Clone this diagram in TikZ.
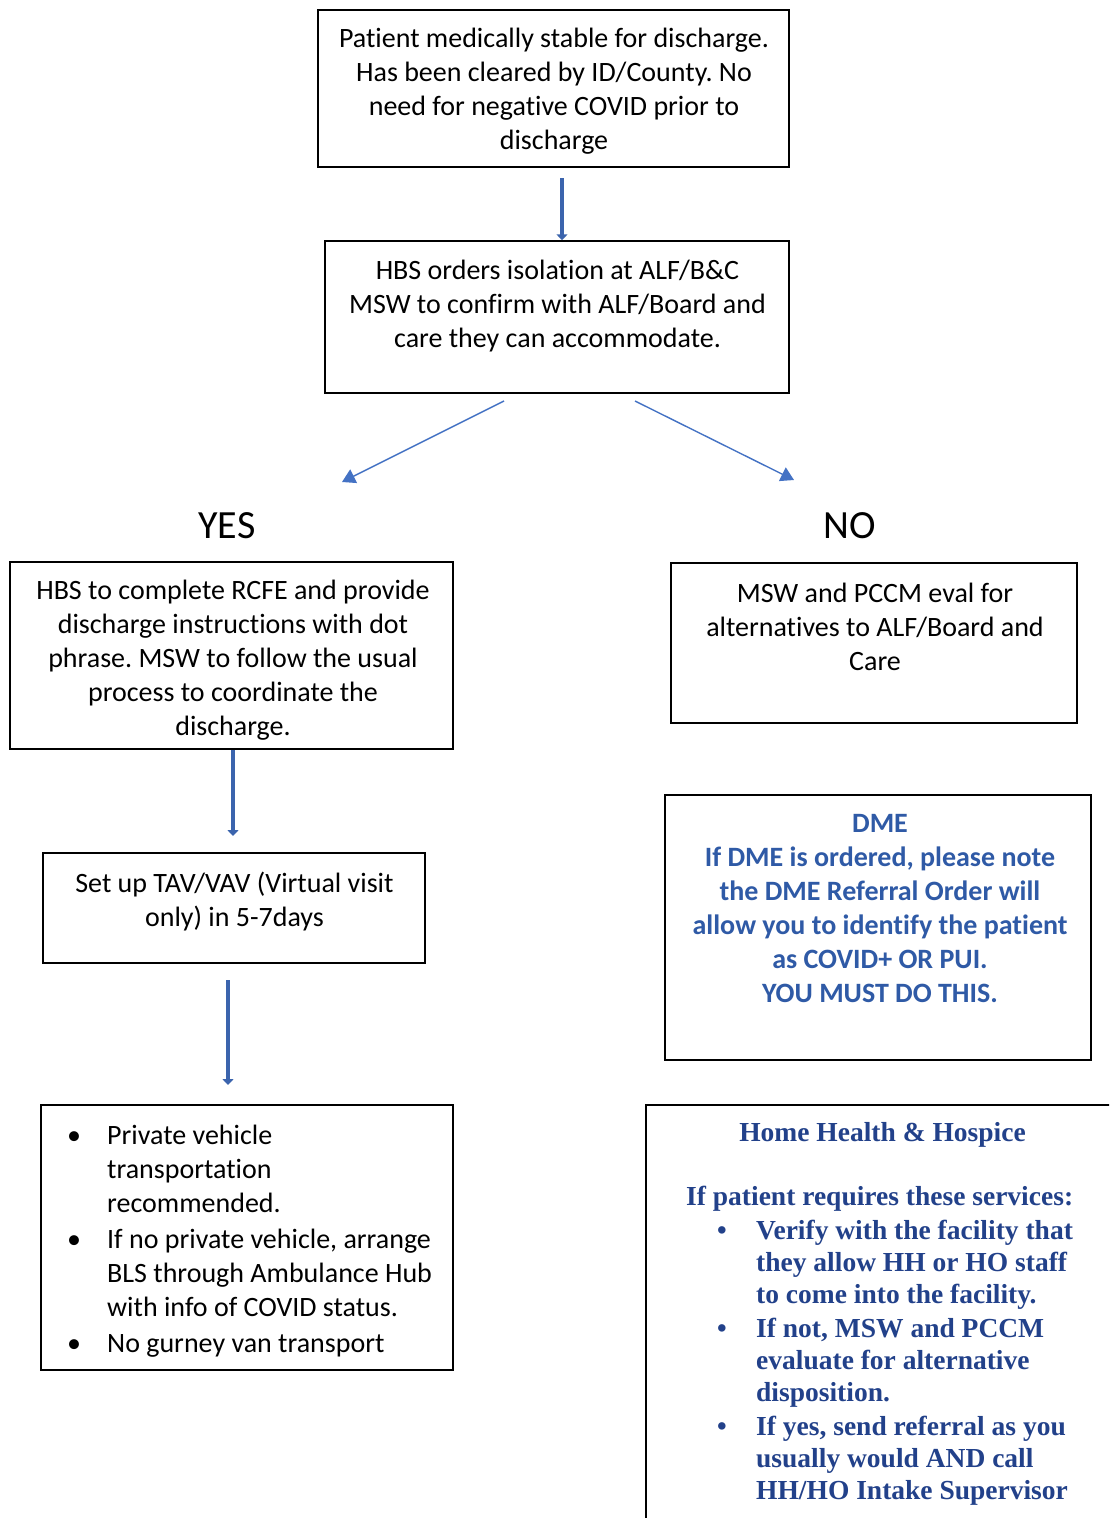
\documentclass[tikz,border=0pt]{standalone}
\usepackage{fontspec}
\setmainfont[Ligatures=NoCommon]{Carlito}
\newfontfamily\tnr{Liberation Serif}
\usetikzlibrary{arrows.meta}
\frenchspacing
\definecolor{arrowblue}{HTML}{4472C4}
\definecolor{thickblue}{HTML}{3B64AD}
\definecolor{dmeblue}{HTML}{2F5AA6}
\definecolor{hhblue}{HTML}{22418A}
\begin{document}
\begin{tikzpicture}[x=1pt,y=-1pt,
  box/.style={draw=black,line width=1.5pt,inner sep=0pt,fill=none},
  txt/.style={inner sep=0pt,align=center,font=\fontsize{28}{34}\selectfont,anchor=north},
  ltxt/.style={inner sep=0pt,align=left,font=\fontsize{28}{34}\selectfont,anchor=north west},
  thickarrow/.style={draw=thickblue,line width=4.5pt,-{Triangle[width=11pt,length=6pt]}},
  diagarrow/.style={draw=arrowblue,line width=1.4pt,-{Triangle[width=15pt,length=13pt]}},
  hh/.style={inner sep=0pt,font=\tnr\bfseries\fontsize{27.5}{32}\selectfont,text=hhblue}
]
\useasboundingbox (0,0) rectangle (1109,1518);
\clip (0,0) rectangle (1109,1518);
\fill[white] (0,0) rectangle (1109,1518);

% Box 1
\node[box,minimum width=471pt,minimum height=157pt] (b1) at (553.5,88.5) {};
\node[txt] (t1) at (554,23) {\strut Patient medically stable for discharge.\\Has been cleared by ID/County. No\\need for negative COVID prior to\\discharge};

% Box 2
\node[box,minimum width=464pt,minimum height=152pt] (b2) at (557,317) {};
\node[txt] (t2) at (557.5,255) {\strut HBS orders isolation at ALF/B\&C\\MSW to confirm with ALF/Board and\\care they can accommodate.};

% YES / NO
\node[inner sep=0pt,font=\fontsize{40}{48}\selectfont] (yes) at (227,526) {YES};
\node[inner sep=0pt,font=\fontsize{40}{48}\selectfont] (no) at (850,526) {NO};

% YES box
\node[box,minimum width=443pt,minimum height=187pt] (b3) at (231.5,655.5) {};
\node[txt] (t3) at (233,575) {\strut HBS to complete RCFE and provide\\discharge instructions with dot\\phrase. MSW to follow the usual\\process to coordinate the\\discharge.};

% NO box
\node[box,minimum width=406pt,minimum height=160pt] (b4) at (874,643) {};
\node[txt] (t4) at (875,578) {\strut MSW and PCCM eval for\\alternatives to ALF/Board and\\Care};

% Setup box
\node[box,minimum width=382pt,minimum height=110pt] (b5) at (234,908) {};
\node[txt] (t5) at (234.5,868) {\strut Set up TAV/VAV (Virtual visit\\only) in 5-7days};

% Transport box
\node[box,minimum width=412pt,minimum height=265pt] (b6) at (247,1237.5) {};
\node[ltxt] (t6) at (107,1120) {\strut\llap{\makebox[40pt][l]{•}}Private vehicle\\transportation\\recommended.\\[2pt]\llap{\makebox[40pt][l]{•}}If no private vehicle, arrange\\BLS through Ambulance Hub\\with info of COVID status.\\[2pt]\llap{\makebox[40pt][l]{•}}No gurney van transport};

% DME box
\node[box,minimum width=426pt,minimum height=265pt] (b7) at (878,927.5) {};
\node[txt,font=\bfseries\fontsize{28}{34}\selectfont,text=dmeblue] (t7) at (880,808) {\strut DME\\If DME is ordered, please note\\the DME Referral Order will\\allow you to identify the patient\\as COVID+ OR PUI.\\YOU MUST DO THIS.};

% Home Health box
\node[box,minimum width=520pt,minimum height=460pt,anchor=north west] (b8) at (645,1104) {};
\node[hh,anchor=north] (t8a) at (882.5,1119) {\strut Home Health \& Hospice};
\node[hh,anchor=north west] (t8b) at (686,1183) {\strut If patient requires these services:};
\node[hh,anchor=north west,align=left] (t8c) at (756,1217) {\strut\llap{\makebox[39pt][l]{\tnr•}}Verify with the facility that\\they allow HH or HO staff\\to come into the facility.\\[2pt]\llap{\makebox[39pt][l]{\tnr•}}If not, MSW and PCCM\\evaluate for alternative\\disposition.\\[2pt]\llap{\makebox[39pt][l]{\tnr•}}If yes, send referral as you\\usually would AND call\\HH/HO Intake Supervisor};

% Connectors
\coordinate (a1s) at (562,178);
\draw[thickarrow] (a1s) -- (a1s |- b2.north);
\coordinate (d1s) at (504,401);
\coordinate (d1e) at (342,482);
\coordinate (d2s) at (635,401);
\coordinate (d2e) at (794,480);
\draw[diagarrow] (d1s) -- (d1e);
\draw[diagarrow] (d2s) -- (d2e);
\coordinate (a2x) at (233,0);
\coordinate (a2e) at (233,836);
\draw[thickarrow] (a2x |- b3.south) -- (a2e);
\coordinate (a3s) at (228,980);
\coordinate (a3e) at (228,1085);
\draw[thickarrow] (a3s) -- (a3e);
\end{tikzpicture}
\end{document}
